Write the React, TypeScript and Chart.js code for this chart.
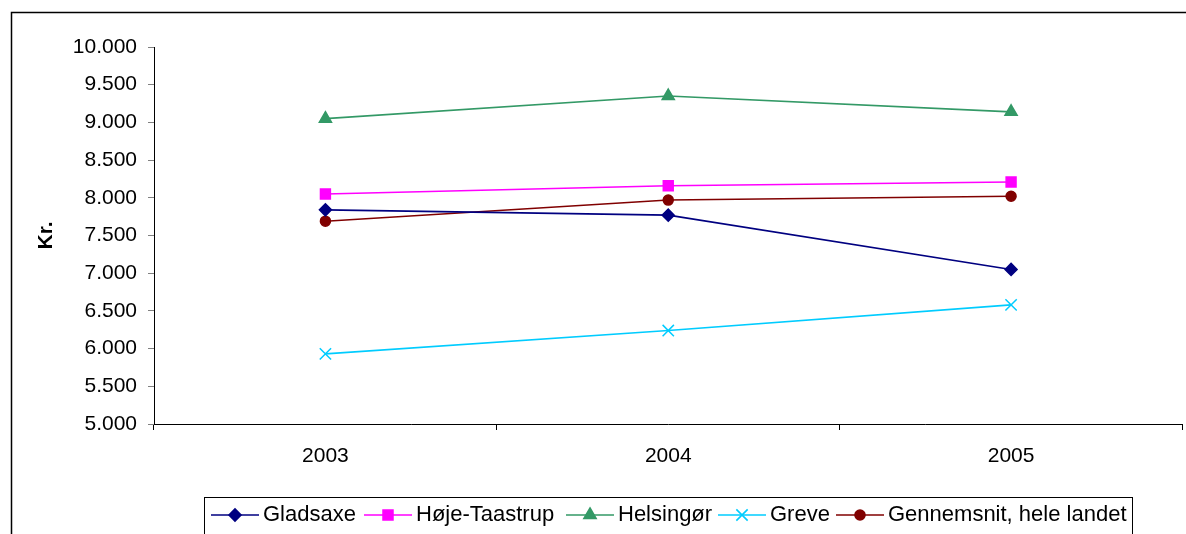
import React, { useEffect, useRef } from "react";
import { Chart, registerables } from "chart.js";
import { drawPoint } from "chart.js/helpers";

Chart.register(...registerables);

const categories = ["2003", "2004", "2005"];
const seriesNames = ["Gladsaxe", "Høje-Taastrup", "Helsingør", "Greve", "Gennemsnit, hele landet"];
const gladsaxe = [7840, 7770, 7050];
const hojeTaastrup = [8050, 8160, 8210];
const helsingor = [9050, 9350, 9140];
const greve = [5930, 6240, 6580];
const gennemsnit = [7690, 7970, 8020];
const yAxisTitle = "Kr.";
const yMin = 5000;
const yMax = 10000;
const yStep = 500;

const FONT = "'Liberation Sans', Arial, Helvetica, sans-serif";

const styles = [
  { color: "#000080", pointStyle: "rectRot", radius: 6, legendX: 211 },
  { color: "#FF00FF", pointStyle: "rect", radius: 7, legendX: 364 },
  { color: "#339966", pointStyle: "triangle", radius: 7, legendX: 566 },
  { color: "#00CCFF", pointStyle: "crossRot", radius: 8, legendX: 718 },
  { color: "#800000", pointStyle: "circle", radius: 5, legendX: 836 },
];

const seriesValues = [gladsaxe, hojeTaastrup, helsingor, greve, gennemsnit];

function fmt(v: number): string {
  return String(Math.round(v)).replace(/\B(?=(\d{3})+(?!\d))/g, ".");
}

const framePlugin = {
  id: "frame",
  beforeDraw(chart: any) {
    const ctx = chart.ctx;
    ctx.save();
    ctx.fillStyle = "#fff";
    ctx.fillRect(0, 0, chart.width, chart.height);
    ctx.strokeStyle = "#000";
    ctx.lineWidth = 1.5;
    ctx.strokeRect(11.5, 12.5, chart.width + 20, chart.height + 20);
    ctx.restore();
  },
};

const legendPlugin = {
  id: "customLegend",
  afterDraw(chart: any) {
    const ctx = chart.ctx;
    ctx.save();
    ctx.strokeStyle = "#000";
    ctx.lineWidth = 1;
    ctx.strokeRect(204.5, 497.5, 928, 80);
    ctx.font = `22px ${FONT}`;
    ctx.textBaseline = "middle";
    ctx.textAlign = "left";
    const y = 515;
    chart.data.datasets.forEach((ds: any, i: number) => {
      const st = styles[i];
      const x = st.legendX;
      ctx.strokeStyle = st.color;
      ctx.lineWidth = 1.6;
      ctx.beginPath();
      ctx.moveTo(x, y);
      ctx.lineTo(x + 48, y);
      ctx.stroke();
      ctx.fillStyle = st.color;
      drawPoint(ctx, { pointStyle: st.pointStyle, radius: st.radius, borderWidth: 1.5, rotation: 0 } as any, x + 24, y);
      ctx.fillStyle = "#000";
      ctx.fillText(ds.label as string, x + 52, y);
    });
    ctx.restore();
  },
};

export default function App() {
  const ref = useRef<HTMLCanvasElement | null>(null);

  useEffect(() => {
    if (!ref.current) return;
    const chart = new Chart(ref.current, {
      type: "line",
      data: {
        labels: categories,
        datasets: seriesValues.map((vals, i) => ({
          label: seriesNames[i],
          data: vals,
          borderColor: styles[i].color,
          backgroundColor: styles[i].color,
          pointBackgroundColor: styles[i].color,
          pointBorderColor: styles[i].color,
          pointStyle: styles[i].pointStyle as any,
          pointRadius: styles[i].radius,
          pointBorderWidth: 1.5,
          borderWidth: 1.6,
          tension: 0,
          fill: false,
        })),
      },
      options: {
        responsive: false,
        animation: false,
        layout: { padding: { top: 47, right: 3, left: 0, bottom: 0 } },
        plugins: {
          legend: { display: false },
          tooltip: { enabled: false },
          title: { display: false },
        },
        scales: {
          x: {
            type: "category",
            offset: true,
            grid: { offset: true, drawOnChartArea: false, drawTicks: true, tickLength: 6, color: "#000" },
            border: { display: true, color: "#000", width: 1 },
            ticks: { color: "#000", font: { family: FONT, size: 21 }, padding: 14, maxRotation: 0 },
            afterFit(scale: any) {
              scale.height = 110;
            },
          },
          y: {
            min: yMin,
            max: yMax,
            ticks: {
              stepSize: yStep,
              color: "#000",
              font: { family: FONT, size: 21 },
              padding: 11,
              callback: (v: any) => fmt(Number(v)),
            },
            grid: { drawOnChartArea: false, drawTicks: true, tickLength: 6, color: "#808080" },
            border: { display: true, color: "#000", width: 1 },
            title: {
              display: true,
              text: yAxisTitle,
              color: "#000",
              font: { family: FONT, size: 21, weight: "bold" },
              padding: { top: 34, bottom: 0 },
            },
            afterFit(scale: any) {
              scale.width = 154;
            },
          },
        },
      },
      plugins: [framePlugin, legendPlugin],
    });
    return () => chart.destroy();
  }, []);

  return (
    <div style={{ position: "absolute", left: 0, top: 0, width: 1186, height: 534, overflow: "hidden", background: "#fff" }}>
      <canvas ref={ref} width={1192} height={534} style={{ display: "block" }} />
    </div>
  );
}
